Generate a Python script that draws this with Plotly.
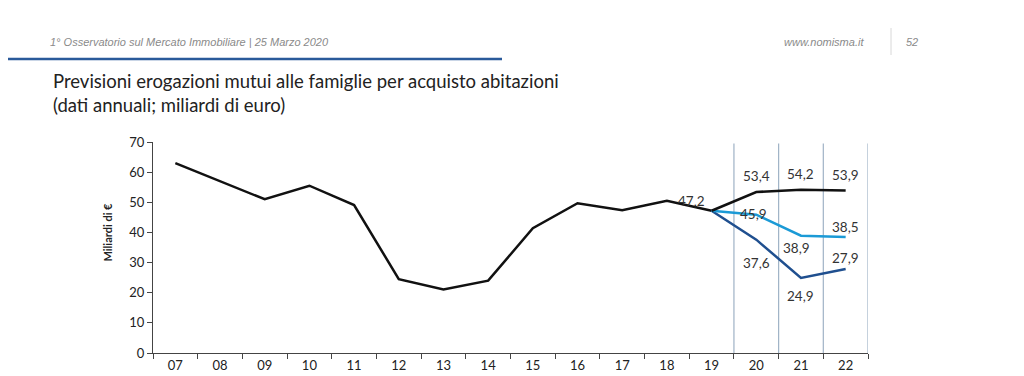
import plotly.graph_objects as go

years = ["07", "08", "09", "10", "11", "12", "13", "14", "15", "16", "17", "18", "19", "20", "21", "22"]
hist_years = years[:13]
hist_values = [63.0, 57.0, 51.0, 55.5, 49.1, 24.5, 21.1, 24.0, 41.4, 49.7, 47.4, 50.5, 47.2]
fc_years = ["19", "20", "21", "22"]
fc_base = [47.2, 53.4, 54.2, 53.9]
fc_mid = [47.2, 45.9, 38.9, 38.5]
fc_low = [47.2, 37.6, 24.9, 27.9]
y_ticks = [0, 10, 20, 30, 40, 50, 60, 70]

BLACK = "#111111"
LIGHT = "#1b9ad6"
DARK = "#1f4f8f"
FONT = "Lato"

# page offset (body margin of the html page)
OFF = 8
W, H = 1024, 376
L, R, T, B = 153 - OFF, W - (868 - OFF), 142 - OFF, H - (353 - OFF)
PW, PH = W - L - R, H - T - B


def px(xp):
    return (xp - OFF - L) / PW


def py(yp):
    return (H - B - (yp - OFF)) / PH


fig = go.Figure()
fig.add_trace(go.Scatter(x=hist_years, y=hist_values, mode="lines",
                         line=dict(color=BLACK, width=2.5), showlegend=False))
fig.add_trace(go.Scatter(x=fc_years, y=fc_low, mode="lines",
                         line=dict(color=DARK, width=2.5), showlegend=False))
fig.add_trace(go.Scatter(x=fc_years, y=fc_mid, mode="lines",
                         line=dict(color=LIGHT, width=2.5), showlegend=False))
fig.add_trace(go.Scatter(x=fc_years, y=fc_base, mode="lines",
                         line=dict(color=BLACK, width=2.5), showlegend=False))

# vertical separators for forecast years
for b in [12.5, 13.5, 14.5, 15.5]:
    fig.add_shape(type="line", xref="x", yref="y", x0=b, x1=b, y0=0, y1=69.5,
                  line=dict(color="#9fb2c6", width=1.2), layer="below")


def fmt(v):
    return f"{v:.1f}".replace(".", ",")


lab_font = dict(family=FONT, size=13.5, color="#333333")
# value labels: (category, value, yshift, xshift)
labels = [
    ("19", fc_base[0], 10, -20),
    ("20", fc_base[1], 16, 0),
    ("21", fc_base[2], 16, 0),
    ("22", fc_base[3], 16, 0),
    ("20", fc_mid[1], 1, -3),
    ("21", fc_mid[2], -12, -4),
    ("22", fc_mid[3], 10, 0),
    ("20", fc_low[1], -23, 0),
    ("21", fc_low[2], -18, 0),
    ("22", fc_low[3], 11, 0),
]
for cat, v, ys, xs in labels:
    fig.add_annotation(x=years.index(cat), y=v, text=fmt(v), showarrow=False,
                       xref="x", yref="y", yshift=ys, xshift=xs, font=lab_font)

# axis title
fig.add_annotation(xref="paper", yref="paper", x=px(98), y=py(232), text="<b>Miliardi di €</b>",
                   textangle=-90, showarrow=False,
                   font=dict(family=FONT, size=11, color="#222222"))

# slide header elements
hdr_font = dict(family="Liberation Sans", size=11, color="#8a8a8a")
fig.add_annotation(xref="paper", yref="paper", x=px(48), y=py(42),
                   xanchor="left", yanchor="middle", showarrow=False,
                   text="<i>1° Osservatorio sul Mercato Immobiliare | 25 Marzo 2020</i>",
                   font=hdr_font)
fig.add_annotation(xref="paper", yref="paper", x=px(866), y=py(42),
                   xanchor="right", yanchor="middle", showarrow=False,
                   text="<i>www.nomisma.it</i>", font=hdr_font)
fig.add_annotation(xref="paper", yref="paper", x=px(904), y=py(42),
                   xanchor="left", yanchor="middle", showarrow=False,
                   text="<i>52</i>", font=hdr_font)
fig.add_shape(type="line", xref="paper", yref="paper",
              x0=px(891), x1=px(891), y0=py(28), y1=py(55),
              line=dict(color="#d8d8d8", width=1))
fig.add_shape(type="line", xref="paper", yref="paper",
              x0=px(0), x1=px(502), y0=py(59), y1=py(59),
              line=dict(color="#2a5a9a", width=2.5))
fig.add_annotation(xref="paper", yref="paper", x=px(51), y=py(68),
                   xanchor="left", yanchor="top", showarrow=False, align="left",
                   text="Previsioni erogazioni mutui alle famiglie per acquisto abitazioni<br>(dati annuali; miliardi di euro)",
                   font=dict(family=FONT, size=18.5, color="#222222"))

fig.update_xaxes(type="category", categoryorder="array", categoryarray=years,
                 range=[-0.5, 15.5], tickson="boundaries", ticks="outside", ticklen=5,
                 tickcolor="#444444", showline=True, linecolor="#444444", linewidth=1.2,
                 showgrid=False, zeroline=False,
                 tickfont=dict(family=FONT, size=13, color="#222222"))
fig.update_yaxes(range=[0, 70], tickvals=y_ticks, ticks="outside", ticklen=5,
                 tickcolor="#444444", showline=True, linecolor="#444444", linewidth=1.2,
                 showgrid=False, zeroline=False,
                 tickfont=dict(family=FONT, size=13, color="#222222"))

fig.update_layout(width=W, height=H, margin=dict(l=L, r=R, t=T, b=B),
                  plot_bgcolor="white", paper_bgcolor="white")

fig.write_html("out.html")
